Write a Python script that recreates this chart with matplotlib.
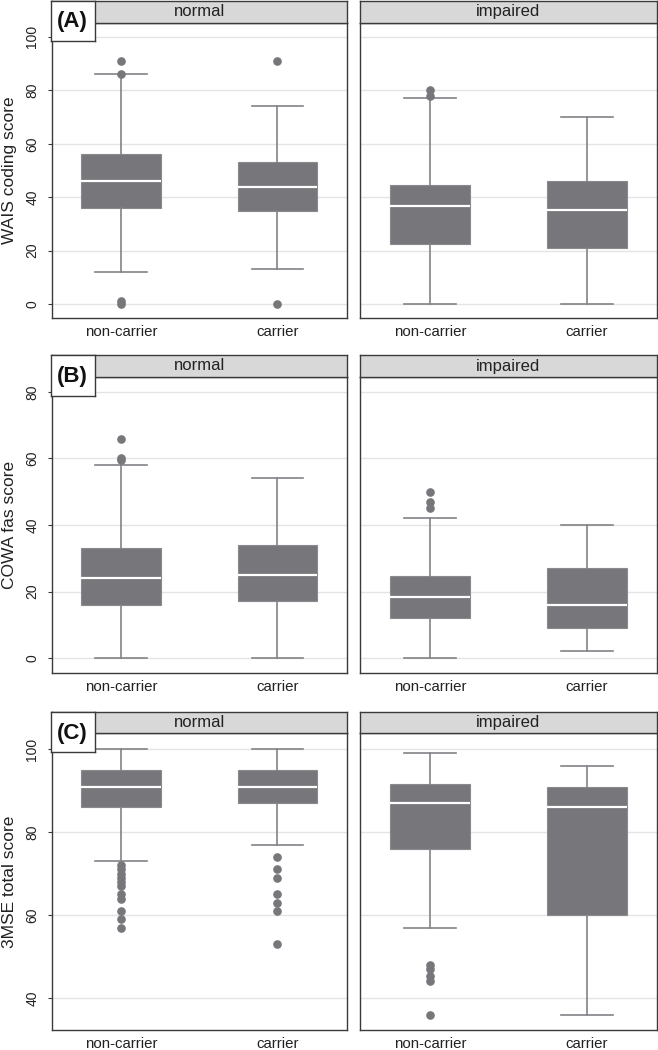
import matplotlib
matplotlib.use("Agg")
import matplotlib.pyplot as plt

plt.rcParams['font.family'] = ['Liberation Sans', 'DejaVu Sans']

groups = ["normal", "impaired"]
carriers = ["non-carrier", "carrier"]
panel_tags = ["(A)", "(B)", "(C)"]
ylabels = ["WAIS coding score", "COWA fas score", "3MSE total score"]
ylims = [(-5.2, 105.2), (-4.5, 84.5), (32.3, 103.9)]
yticks = [[0, 20, 40, 60, 80, 100], [0, 20, 40, 60, 80], [40, 60, 80, 100]]

# box stats per panel: [normal non-carrier, normal carrier, impaired non-carrier, impaired carrier]
wais_q1 = [36, 35, 22.5, 21]
wais_med = [46, 44, 36.6, 35.2]
wais_q3 = [56, 53, 44.7, 46]
wais_lo = [12, 13, 0, 0]
wais_hi = [86, 74, 77, 70]
wais_out = [[91, 86, 1, 0], [91, 0], [80, 78], []]

cowa_q1 = [16, 17, 12, 9]
cowa_med = [24, 25, 18.5, 16]
cowa_q3 = [33, 34, 24.6, 27.2]
cowa_lo = [0, 0, 0, 2]
cowa_hi = [58, 54, 42, 40]
cowa_out = [[66, 60, 59.4], [], [50, 47, 45], []]

mse_q1 = [86, 87, 76, 60]
mse_med = [91, 91, 87, 86]
mse_q3 = [95, 95, 91.5, 91]
mse_lo = [73, 77, 57, 36]
mse_hi = [100, 100, 99, 96]
mse_out = [[72, 71, 70, 69, 68, 67, 65, 64, 61, 59, 57],
           [74, 71, 69, 65, 63, 61, 53],
           [48, 47, 45.3, 44.2, 36], []]

panels = [
    (wais_q1, wais_med, wais_q3, wais_lo, wais_hi, wais_out),
    (cowa_q1, cowa_med, cowa_q3, cowa_lo, cowa_hi, cowa_out),
    (mse_q1, mse_med, mse_q3, mse_lo, mse_hi, mse_out),
]

W, H = 658, 1050
fig = plt.figure(figsize=(W / 100, H / 100), dpi=100)

box_col = '#77777b'
whisk_col = '#838387'
frame_col = '#3a3a3a'

# pixel layout: (strip top, strip bottom, plot bottom)
rows = [(0.5, 23, 318), (355, 377, 673), (712, 733, 1030)]
cols = [(51.7, 347), (360, 656.7)]


def fx(px):
    return px / W


def fy(py):
    return 1 - py / H


for r, (q1, med, q3, lo, hi, out) in enumerate(panels):
    st, sb, pb = rows[r]
    for c, (x0, x1) in enumerate(cols):
        ax = fig.add_axes([fx(x0), fy(pb), fx(x1) - fx(x0), fy(sb) - fy(pb)])
        stats = []
        for k in range(2):
            i = 2 * c + k
            stats.append(dict(med=med[i], q1=q1[i], q3=q3[i], whislo=lo[i],
                              whishi=hi[i], fliers=out[i]))
        ax.bxp(stats, positions=[1, 2], widths=0.51, capwidths=0.33,
               patch_artist=True,
               boxprops=dict(facecolor=box_col, edgecolor='#8a8a8e', lw=0.8),
               medianprops=dict(color='white', lw=1.6),
               whiskerprops=dict(color=whisk_col, lw=1.2),
               capprops=dict(color=whisk_col, lw=1.2),
               flierprops=dict(marker='o', markerfacecolor=box_col,
                               markeredgecolor=box_col, markersize=5.2))
        ax.set_xlim(0.555, 2.445)
        ax.set_ylim(*ylims[r])
        ax.set_yticks(yticks[r])
        ax.yaxis.grid(True, color='#e4e4e4', lw=1.0)
        ax.set_axisbelow(True)
        ax.set_xticks([1, 2])
        ax.set_xticklabels(carriers, fontsize=10.8, color='#222222')
        ax.tick_params(axis='x', length=0, pad=5)
        for sp in ax.spines.values():
            sp.set_color(frame_col)
            sp.set_linewidth(1.0)
        if c == 0:
            ax.tick_params(axis='y', length=3, width=0.8, color=frame_col,
                           labelsize=10, labelrotation=90, pad=6,
                           labelcolor='#222222')
            for lab in ax.get_yticklabels():
                lab.set_va('center')
            ax.set_ylabel(ylabels[r], fontsize=12.5, color='#222222')
            ax.yaxis.set_label_coords(-0.118, 0.5)
        else:
            ax.tick_params(axis='y', length=0, labelleft=False)

        # strip header
        sax = fig.add_axes([fx(x0), fy(sb), fx(x1) - fx(x0), fy(st) - fy(sb)])
        sax.set_facecolor('#d8d8d8')
        sax.set_xticks([])
        sax.set_yticks([])
        for sp in sax.spines.values():
            sp.set_color(frame_col)
            sp.set_linewidth(1.0)
        sax.text(0.5, 0.5, groups[c], ha='center', va='center',
                 fontsize=12, color='#222222', transform=sax.transAxes)

    # panel tag box
    tb = {0: 41, 1: 396, 2: 752}[r]
    tax = fig.add_axes([fx(50.5), fy(tb), fx(94.5) - fx(50.5), fy(st) - fy(tb)])
    tax.set_facecolor('white')
    tax.set_xticks([])
    tax.set_yticks([])
    for sp in tax.spines.values():
        sp.set_color(frame_col)
        sp.set_linewidth(1.0)
    tax.text(0.5, 0.47, panel_tags[r], ha='center', va='center',
             fontsize=16, fontweight='bold', color='#111111',
             transform=tax.transAxes)

fig.savefig("out.png", dpi=100)
